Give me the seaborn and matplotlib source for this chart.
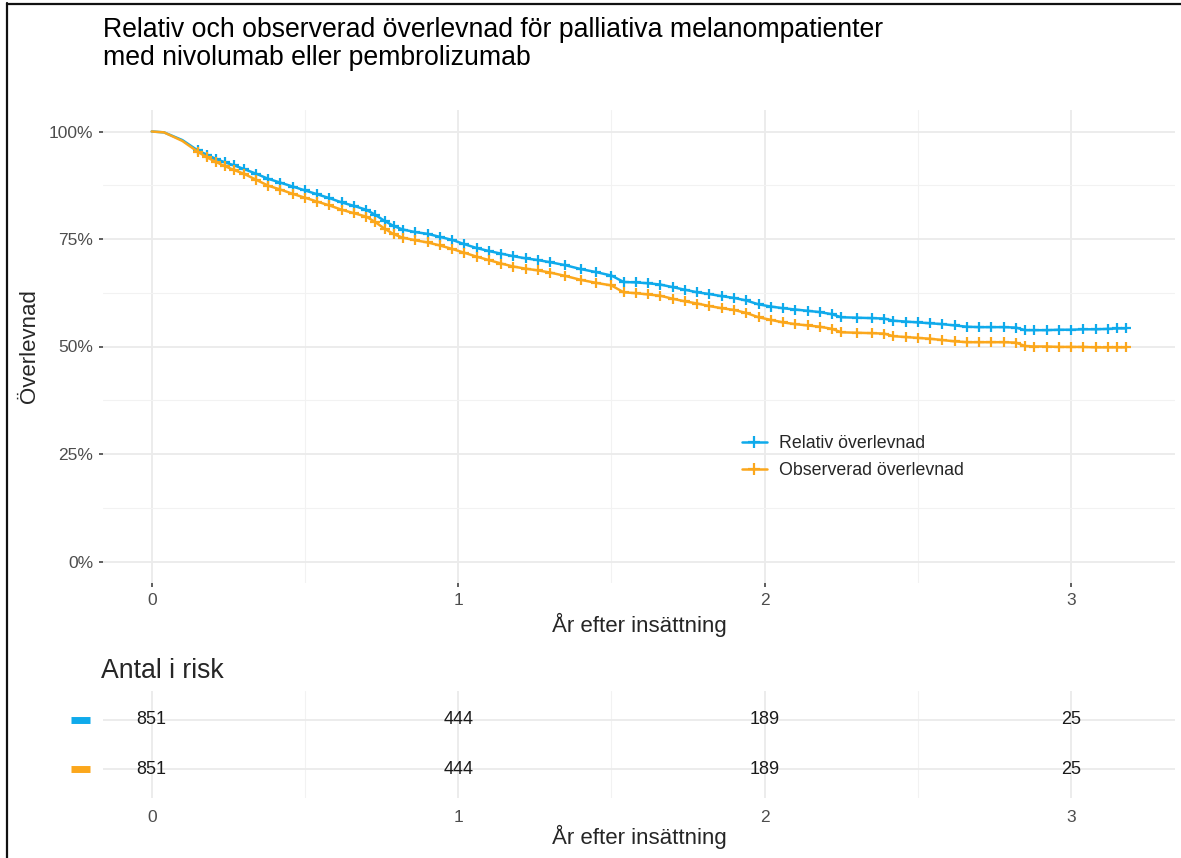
import numpy as np
import pandas as pd
import matplotlib
matplotlib.use('Agg')
import matplotlib.pyplot as plt
from matplotlib.lines import Line2D
import seaborn as sns

# Survival curves: years after start vs % surviving
years = [0, 0.04, 0.10, 0.15, 0.18, 0.21, 0.24, 0.27, 0.30, 0.34, 0.38, 0.42, 0.46,
         0.50, 0.54, 0.58, 0.62, 0.66, 0.70, 0.73, 0.76, 0.79, 0.82, 0.86, 0.90,
         0.94, 0.98, 1.02, 1.06, 1.10, 1.14, 1.18, 1.22, 1.26, 1.30, 1.35, 1.40,
         1.45, 1.50, 1.54, 1.58, 1.62, 1.66, 1.70, 1.74, 1.78, 1.82, 1.86, 1.90,
         1.94, 1.98, 2.02, 2.06, 2.10, 2.14, 2.18, 2.22, 2.25, 2.30, 2.35, 2.39,
         2.42, 2.46, 2.50, 2.54, 2.58, 2.62, 2.66, 2.70, 2.74, 2.78, 2.82, 2.85,
         2.88, 2.92, 2.96, 3.00, 3.04, 3.08, 3.12, 3.15, 3.18]
relativ = [100, 99.8, 98.0, 95.6, 94.6, 93.6, 92.8, 92.1, 91.3, 90.2, 89.0, 88.1, 87.2,
           86.3, 85.4, 84.5, 83.5, 82.7, 81.8, 80.6, 79.2, 78.0, 77.2, 76.6, 76.2,
           75.5, 74.8, 73.8, 72.9, 72.2, 71.6, 71.0, 70.5, 70.1, 69.6, 68.9, 68.0,
           67.3, 66.5, 65.0, 64.9, 64.7, 64.4, 63.8, 63.2, 62.6, 62.2, 61.7, 61.3,
           60.7, 59.8, 59.3, 58.9, 58.6, 58.3, 58.0, 57.5, 56.8, 56.7, 56.6, 56.5,
           56.0, 55.8, 55.6, 55.4, 55.2, 54.9, 54.6, 54.5, 54.5, 54.5, 54.4, 53.8,
           53.8, 53.8, 53.9, 53.9, 54.0, 54.0, 54.1, 54.2, 54.2]
observerad = [100, 99.8, 97.8, 95.3, 94.0, 92.9, 91.9, 91.0, 90.2, 88.8, 87.4, 86.5, 85.5,
              84.6, 83.7, 82.8, 81.8, 81.0, 80.2, 78.9, 77.4, 76.1, 75.3, 74.7, 74.2,
              73.5, 72.7, 71.8, 70.9, 70.1, 69.3, 68.6, 68.1, 67.7, 67.2, 66.4, 65.5,
              64.8, 64.2, 62.6, 62.4, 62.1, 61.8, 61.1, 60.5, 60.0, 59.4, 58.9, 58.5,
              57.8, 56.8, 56.2, 55.6, 55.2, 54.9, 54.6, 54.1, 53.3, 53.2, 53.1, 53.0,
              52.4, 52.2, 52.0, 51.8, 51.5, 51.2, 51.0, 51.0, 51.0, 51.0, 50.9, 50.1,
              50.0, 50.0, 49.9, 49.9, 49.9, 49.8, 49.8, 49.8, 49.8]
serier = ['Relativ överlevnad', 'Observerad överlevnad']
farger = ['#0FAAEB', '#FBA71C']

# number at risk table
risk_years = [0, 1, 2, 3]
risk_relativ = [851, 444, 189, 25]
risk_observerad = [851, 444, 189, 25]

x_ticks = [0, 1, 2, 3]
y_ticks = [0, 25, 50, 75, 100]

sns.set_theme(style='white')
plt.rcParams['font.family'] = ['Liberation Sans', 'DejaVu Sans']

W, H = 1181, 858
fig = plt.figure(figsize=(W / 100, H / 100), dpi=100)
ax = fig.add_axes([103 / W, 1 - 583 / H, 1072 / W, 473 / H])

df = pd.DataFrame({
    'year': years * 2,
    'surv': relativ + observerad,
    'serie': [serier[0]] * len(years) + [serier[1]] * len(years),
})
sns.lineplot(data=df, x='year', y='surv', hue='serie', hue_order=serier,
             palette=farger, estimator=None, lw=1.8, marker='+', ms=7.5, mew=1.6,
             markevery=list(range(3, len(years))), legend=False, ax=ax)
# seaborn paints marker edges white; give the censor crosses the line colour
for line in ax.lines:
    line.set_markeredgecolor(line.get_color())

ax.set_xlim(-0.159, 3.339)
ax.set_ylim(-5, 105)
ax.set_xticks(x_ticks)
ax.set_xticks([0.5, 1.5, 2.5], minor=True)
ax.set_yticks(y_ticks)
ax.set_yticks([12.5, 37.5, 62.5, 87.5], minor=True)
ax.set_yticklabels([f'{v}%' for v in y_ticks])
ax.grid(which='major', color='#EBEBEB', lw=1.3)
ax.grid(which='minor', color='#F2F2F2', lw=0.8)
ax.set_axisbelow(True)
for s in ax.spines.values():
    s.set_visible(False)
ax.tick_params(which='major', left=True, bottom=True, length=3, width=1.1,
               color='#333333', labelsize=12.5, labelcolor='#4D4D4D', pad=4)
ax.tick_params(which='minor', length=0)
ax.set_xlabel('')
ax.set_ylabel('')

handles = [Line2D([], [], color=c, lw=1.8, marker='+', ms=8, mew=1.6) for c in farger]
ax.legend(handles, serier, loc='upper left', bbox_to_anchor=(0.596, 0.313),
          frameon=False, fontsize=12.8, borderpad=0, borderaxespad=0,
          handlelength=1.4, handletextpad=0.7, labelspacing=0.55)

# titles and axis titles
fig.text(103 / W, 1 - 37 / H, 'Relativ och observerad överlevnad för palliativa melanompatienter',
         fontsize=19.2, va='baseline', ha='left', color='black')
fig.text(103 / W, 1 - 65 / H, 'med nivolumab eller pembrolizumab',
         fontsize=19.2, va='baseline', ha='left', color='black')
fig.text(30 / W, 1 - 346 / H, 'Överlevnad', rotation=90, fontsize=16,
         va='center', ha='center')
fig.text(639 / W, 1 - 632 / H, 'År efter insättning', fontsize=16,
         va='baseline', ha='center')

# risk table
rax = fig.add_axes([103 / W, 1 - 798.4 / H, 1072 / W, 107.8 / H])
rax.set_xlim(-0.159, 3.339)
rax.set_ylim(2.6, 0.4)
rax.set_xticks(x_ticks)
rax.set_xticks([0.5, 1.5, 2.5], minor=True)
rax.set_yticks([1, 2])
rax.set_yticklabels([])
rax.grid(which='major', color='#EBEBEB', lw=1.3)
rax.grid(which='minor', axis='x', color='#F2F2F2', lw=0.8)
rax.set_axisbelow(True)
for s in rax.spines.values():
    s.set_visible(False)
rax.tick_params(which='both', length=0, labelsize=12.5, labelcolor='#4D4D4D', pad=8)
rax.set_facecolor('none')

for row, (vals, c) in enumerate(zip([risk_relativ, risk_observerad], farger), start=1):
    for t, n in zip(risk_years, vals):
        rax.text(t, row, str(n), ha='center', va='center', fontsize=13, color='#1A1A1A')
    rax.plot([-0.0298, -0.0121], [row, row], color=c, lw=5,
             transform=rax.get_yaxis_transform(), clip_on=False, solid_capstyle='butt')

fig.text(101 / W, 1 - 678 / H, 'Antal i risk', fontsize=19.2, va='baseline', ha='left')
fig.text(639 / W, 1 - 844 / H, 'År efter insättning', fontsize=16,
         va='baseline', ha='center')

# frame of the screenshot
fig.add_artist(Line2D([7 / W, 7 / W], [0, 1 - 3 / H], color='#111111', lw=1.6))
fig.add_artist(Line2D([7 / W, 1], [1 - 4 / H, 1 - 4 / H], color='#111111', lw=1.6))

fig.savefig('out.png', dpi=100)
